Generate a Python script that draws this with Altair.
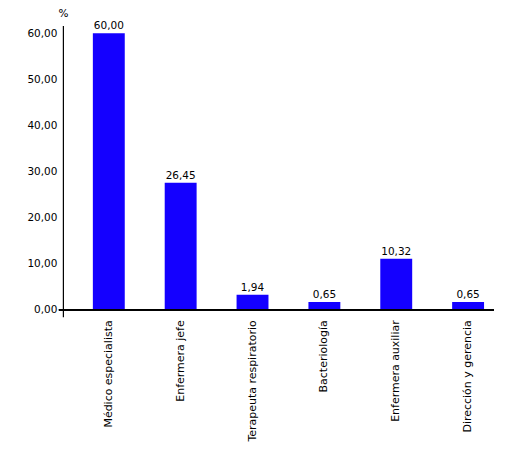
import pandas as pd
import altair as alt

categories = ["Médico especialista", "Enfermera  jefe", "Terapeuta respiratorio",
              "Bacteriología", "Enfermera auxiliar", "Dirección y gerencia"]
bar_heights = [60.0, 27.6, 3.3, 1.7, 11.1, 1.7]
value_labels = ["60,00", "26,45", "1,94", "0,65", "10,32", "0,65"]
y_ticks = [0, 10, 20, 30, 40, 50, 60]

data = pd.DataFrame({"cat": categories, "val": bar_heights, "lbl": value_labels})

FONT = "DejaVu Sans"

x = alt.X("cat:N", sort=categories,
          scale=alt.Scale(paddingInner=0.556, paddingOuter=0.278, align=0.75),
          axis=alt.Axis(title=None, labelAngle=270, labelAlign="right", labelBaseline="middle",
                        labelPadding=3, ticks=False, domain=False, labelFont=FONT,
                        labelFontSize=11, labelColor="#000000", labelLimit=200))
y = alt.Y("val:Q", scale=alt.Scale(domain=[-1.5, 61.7], nice=False, zero=False),
          axis=alt.Axis(title="%", titleAngle=0, titleX=0, titleY=-7, titleAlign="center",
                        titleFont=FONT, titleFontSize=10.5, titleFontWeight="normal",
                        values=y_ticks, ticks=False, grid=False, labelPadding=6,
                        labelExpr="replace(format(datum.value, '.2f'), '.', ',')",
                        labelFont=FONT, labelFontSize=10.5, labelColor="#000000",
                        domainColor="#000000", domainWidth=1.2))

bars = alt.Chart(data).mark_bar(color="#1400ff").encode(x=x, y=y, y2=alt.datum(0))

text = alt.Chart(data).mark_text(baseline="bottom", dy=-2, font=FONT, fontSize=10.5,
                                 color="#000000").encode(x=x, y=y, text="lbl:N")

base = alt.Chart(data).mark_rule(color="#000000", strokeWidth=1.2).encode(
    x=alt.value(-4), x2=alt.value(432), y=alt.datum(0))

chart = (bars + text + base).properties(
    width=432, height=292,
    autosize=alt.AutoSizeParams(type="none"),
    padding={"left": 55, "top": 17, "right": 20, "bottom": 130},
).configure_view(stroke=None)

chart.save("out.html", embed_options={"renderer": "svg", "actions": False})
